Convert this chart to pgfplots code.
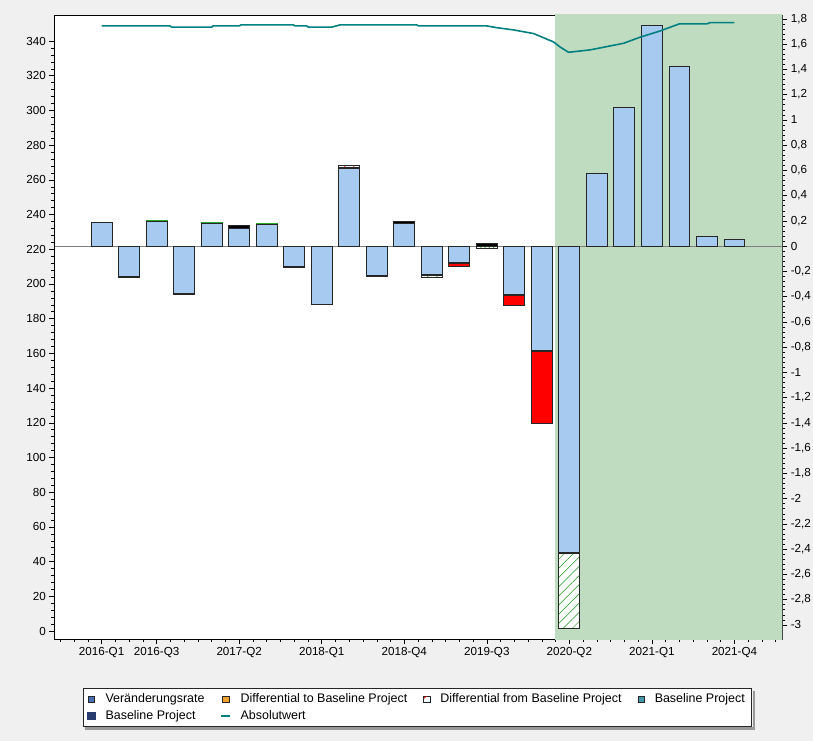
\documentclass[border=0pt]{standalone}
\usepackage{fontspec}
\setmainfont{Liberation Sans}
\usepackage{pgfplots}
\pgfplotsset{compat=1.18}
\usetikzlibrary{patterns.meta}

\definecolor{barblue}{RGB}{166,202,240}
\definecolor{shadegreen}{RGB}{192,220,192}
\definecolor{bgray}{RGB}{240,240,240}
\definecolor{absteal}{RGB}{0,128,128}
\definecolor{hatchgreen}{RGB}{30,150,30}
\definecolor{segred}{RGB}{255,0,0}
\definecolor{seggreen}{RGB}{40,170,40}
\definecolor{vblue}{RGB}{72,110,180}
\definecolor{dorange}{RGB}{242,160,45}
\definecolor{bteal}{RGB}{70,150,170}
\definecolor{bnavy}{RGB}{40,60,110}

\pgfplotsset{
  common/.style={
    scale only axis, width=728bp, height=624bp,
    xmin=-1.72, xmax=24.74,
    tick align=outside,
    major tick length=5bp, minor tick length=3bp,
    every tick/.style={black, line width=0.5bp},
    ticklabel style={font=\fontsize{11.7}{13}\selectfont},
    /pgf/number format/assume math mode=true,
  },
  seg/.style={ybar, bar width=0.76, bar shift=0pt, draw=black!85, line width=0.9bp, forget plot},
}

\begin{document}
\begin{tikzpicture}
\path[use as bounding box, fill=bgray] (-54.3bp,-102bp) rectangle (758.7bp,639bp);

% bars, right-hand scale
\begin{axis}[common,
  axis background/.style={fill=white},
  axis line style={black, line width=0.8bp},
  ymin=-3.112, ymax=1.831,
  ytick={-3,-2.8,-2.6,-2.4,-2.2,-2,-1.8,-1.6,-1.4,-1.2,-1,-0.8,-0.6,-0.4,-0.2,0,0.2,0.4,0.6,0.8,1,1.2,1.4,1.6,1.8},
  minor y tick num=4,
  ytick pos=right, yticklabel pos=right,
  yticklabel style={/pgf/number format/fixed, /pgf/number format/use comma},
  xtick={0,2,5,8,11,14,17,20,23},
  xticklabels={2016-Q1,2016-Q3,2017-Q2,2018-Q1,2018-Q4,2019-Q3,2020-Q2,2021-Q1,2021-Q4},
  minor xtick={-1.5,-1,...,24.5},
  xtick pos=left,
]
\addplot[fill=shadegreen, draw=none, forget plot] coordinates {(16.48,-3.3) (24.9,-3.3) (24.9,2) (16.48,2)} \closedcycle;
\draw[gray, line width=0.8bp] (axis cs:-1.72,0) -- (axis cs:24.74,0);

% outer segments
\addplot[seg, fill=white, postaction={pattern={Lines[angle=45,distance=6.5bp,line width=0.5bp]}, pattern color=red}]
  coordinates {(9,0.640)};
\addplot[seg, fill=white, postaction={pattern={Lines[angle=45,distance=6.5bp,line width=0.5bp]}, pattern color=hatchgreen}]
  coordinates {(12,-0.252) (17,-3.030)};
\addplot[seg, fill=segred] coordinates {(13,-0.159) (15,-0.468) (16,-1.405)};

% middle segments
\addplot[seg, fill=black] coordinates {(3,-0.381) (5,0.161) (7,-0.167) (9,0.625) (10,-0.241) (11,0.195) (12,-0.235) (13,-0.138) (14,0.020) (15,-0.392) (16,-0.835) (17,-2.434)};
\addplot[seg, fill=segred] coordinates {(1,-0.250)};
\addplot[seg, fill=seggreen, draw=seggreen] coordinates {(2,0.206) (4,0.190) (6,0.180)};
\addplot[seg, fill=white, postaction={pattern={Lines[angle=45,distance=3bp,line width=0.5bp]}, pattern color=hatchgreen}]
  coordinates {(14,-0.020)};

% Veränderungsrate
\addplot[seg, fill=barblue] coordinates {
  (0,0.187) (1,-0.240) (2,0.195) (3,-0.372) (4,0.182) (5,0.137) (6,0.172) (7,-0.158)
  (8,-0.460) (9,0.613) (10,-0.234) (11,0.177) (12,-0.225) (13,-0.130) (15,-0.384)
  (16,-0.825) (17,-2.424) (18,0.575) (19,1.100) (20,1.750) (21,1.426) (22,0.079) (23,0.051)};
\end{axis}

% absolute value, left-hand scale
\begin{axis}[common,
  axis x line=none, axis y line*=left,
  axis line style={black, line width=0.8bp},
  ymin=-4.6, ymax=355,
  ytick={0,20,...,340}, minor y tick num=4,
  ytick pos=left,
  legend columns=4,
  legend cell align=left,
  legend style={at={(0.4989,-0.1098)}, anchor=center, name=lgd,
    draw=black!85, line width=0.8bp, fill=white,
    font=\fontsize{12.5}{14}\selectfont,
    inner xsep=4bp, inner ysep=2.5bp,
    nodes={inner ysep=2.8bp, inner xsep=3bp},
    /tikz/every odd column/.append style={column sep=7bp},
    /tikz/every even column/.append style={column sep=13bp},
    row sep=0.5bp,
  },
]
\addlegendimage{legend image code/.code={\draw[fill=vblue, draw=black!85, line width=0.7bp] (0bp,-3.2bp) rectangle (6.5bp,3.3bp);}}
\addlegendentry{Veränderungsrate}
\addlegendimage{legend image code/.code={\draw[fill=dorange, draw=black!85, line width=0.7bp] (0bp,-3.2bp) rectangle (6.5bp,3.3bp);}}
\addlegendentry{Differential to Baseline Project}
\addlegendimage{legend image code/.code={\draw[fill=white, draw=black!85, line width=0.7bp] (0bp,-3.2bp) rectangle (6.5bp,3.3bp); \draw[red, line width=0.7bp] (0.4bp,0.8bp) -- (2.8bp,3bp);}}
\addlegendentry{Differential from Baseline Project}
\addlegendimage{legend image code/.code={\draw[fill=bteal, draw=black!85, line width=0.7bp] (0bp,-3.2bp) rectangle (6.5bp,3.3bp);}}
\addlegendentry{Baseline Project}
\addlegendimage{legend image code/.code={\fill[bnavy] (-0.5bp,-3.7bp) rectangle (7bp,3.8bp);}}
\addlegendentry{Baseline Project}

\addplot[absteal, line width=1.6bp, no marks,
  legend image code/.code={\draw[absteal, line width=1.6bp] (-1bp,0bp) -- (7.5bp,0bp);}]
  coordinates {
  (0,348.7) (2.48,348.7) (2.55,348.0) (4.0,348.0) (4.05,348.7) (5.0,348.7) (5.07,349.3)
  (6.97,349.3) (7.03,348.7) (7.45,348.7) (7.52,348.0) (8.36,348.0) (8.67,349.3)
  (11.45,349.3) (11.52,348.7) (14.0,348.7) (14.36,347.7) (14.97,346.4) (15.7,344.3)
  (16.42,339.5) (16.67,336.5) (16.97,333.5) (17.76,334.9) (18.97,338.7) (19.57,342.2)
  (20.3,345.8) (21.0,349.9) (22.0,349.9) (22.12,350.6) (23.0,350.6)};
\addlegendentry{Absolutwert}
\end{axis}
% legend shadow
\fill[black!40] ([xshift=2.5bp,yshift=-2.8bp]lgd.south west) rectangle ([xshift=2.8bp,yshift=-0.4bp]lgd.south east);
\fill[black!40] ([xshift=0.4bp,yshift=-2.8bp]lgd.south east) rectangle ([xshift=2.8bp,yshift=-2.5bp]lgd.north east);
\end{tikzpicture}
\end{document}
